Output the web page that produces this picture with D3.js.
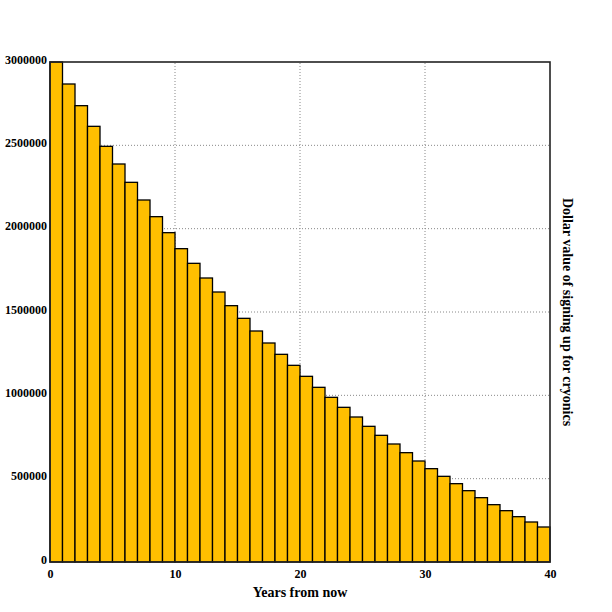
<!DOCTYPE html>
<html lang="en">
<head>
  <meta charset="UTF-8">
  <title>Cryonics value</title>
  <style>
    body { margin: 0; padding: 0; background: #fff; }
    svg text { font-family: "Liberation Serif", "DejaVu Serif", serif; font-weight: bold; fill: #000; }
    .grid line { stroke: #888; stroke-width: 1; stroke-dasharray: 1,2; }
    .bar { fill: #ffbf00; stroke: #000; stroke-width: 1.3; }
    .frame { fill: none; stroke: #222; stroke-width: 1.6; }
  </style>
</head>
<body>
  <div id="chart"></div>
  <script src="https://d3js.org/d3.v7.min.js"></script>
  <script>
    // years from now (start of each bar)
    var years = d3.range(0, 40);
    // dollar value
    var values = [
      3000000, 2868000, 2738000, 2614000, 2494000, 2388000, 2278000, 2172000, 2072000, 1976000,
      1880000, 1792000, 1704000, 1620000, 1538000, 1462000, 1386000, 1314000, 1246000, 1180000,
      1114000, 1048000, 988000, 928000, 870000, 814000, 760000, 708000, 656000, 606000,
      560000, 514000, 470000, 428000, 386000, 344000, 308000, 272000, 240000, 210000
    ];
    var xTicks = [0, 10, 20, 30, 40];
    var yTicks = [0, 500000, 1000000, 1500000, 2000000, 2500000, 3000000];

    var width = 612, height = 612;
    var margin = { left: 50, right: 62, top: 62, bottom: 50 };

    var svg = d3.select("#chart").append("svg")
      .attr("width", width)
      .attr("height", height);

    var x = d3.scaleLinear().domain([0, 40]).range([margin.left, width - margin.right]);
    var y = d3.scaleLinear().domain([0, 3000000]).range([height - margin.bottom, margin.top]);

    // dotted grid
    var grid = svg.append("g").attr("class", "grid");
    grid.selectAll(".gx")
      .data(xTicks.slice(1, -1))
      .enter().append("line")
      .attr("x1", function(d) { return x(d); })
      .attr("x2", function(d) { return x(d); })
      .attr("y1", y(0))
      .attr("y2", y(3000000));
    grid.selectAll(".gy")
      .data(yTicks.slice(1, -1))
      .enter().append("line")
      .attr("x1", x(0))
      .attr("x2", x(40))
      .attr("y1", function(d) { return y(d); })
      .attr("y2", function(d) { return y(d); });

    // bars
    svg.selectAll(".bar")
      .data(values)
      .enter().append("rect")
      .attr("class", "bar")
      .attr("x", function(d, i) { return x(years[i]); })
      .attr("width", function(d, i) { return x(years[i] + 1) - x(years[i]); })
      .attr("y", function(d) { return y(d); })
      .attr("height", function(d) { return y(0) - y(d); });

    svg.append("rect")
      .attr("class", "frame")
      .attr("x", x(0))
      .attr("y", y(3000000))
      .attr("width", x(40) - x(0))
      .attr("height", y(0) - y(3000000));

    // axes (labels only, no tick marks)
    var xAxis = svg.append("g")
      .attr("transform", "translate(0," + y(0) + ")")
      .call(d3.axisBottom(x).tickValues(xTicks).tickSize(0).tickPadding(7).tickFormat(d3.format("d")));
    var yAxis = svg.append("g")
      .attr("transform", "translate(" + x(0) + ",0)")
      .call(d3.axisLeft(y).tickValues(yTicks).tickSize(0).tickPadding(3).tickFormat(d3.format("d")));
    [xAxis, yAxis].forEach(function(a) {
      a.select(".domain").remove();
      a.selectAll("text").attr("font-size", 12).style("font-family", null);
    });
    yAxis.selectAll("text").attr("dy", "0.1em");

    svg.append("text")
      .attr("x", (x(0) + x(40)) / 2)
      .attr("y", 597)
      .attr("text-anchor", "middle")
      .attr("font-size", 14)
      .text("Years from now");

    svg.append("text")
      .attr("transform", "translate(563," + (y(0) + y(3000000)) / 2 + ") rotate(90)")
      .attr("text-anchor", "middle")
      .attr("font-size", 14)
      .text("Dollar value of signing up for cryonics");
  </script>
</body>
</html>
